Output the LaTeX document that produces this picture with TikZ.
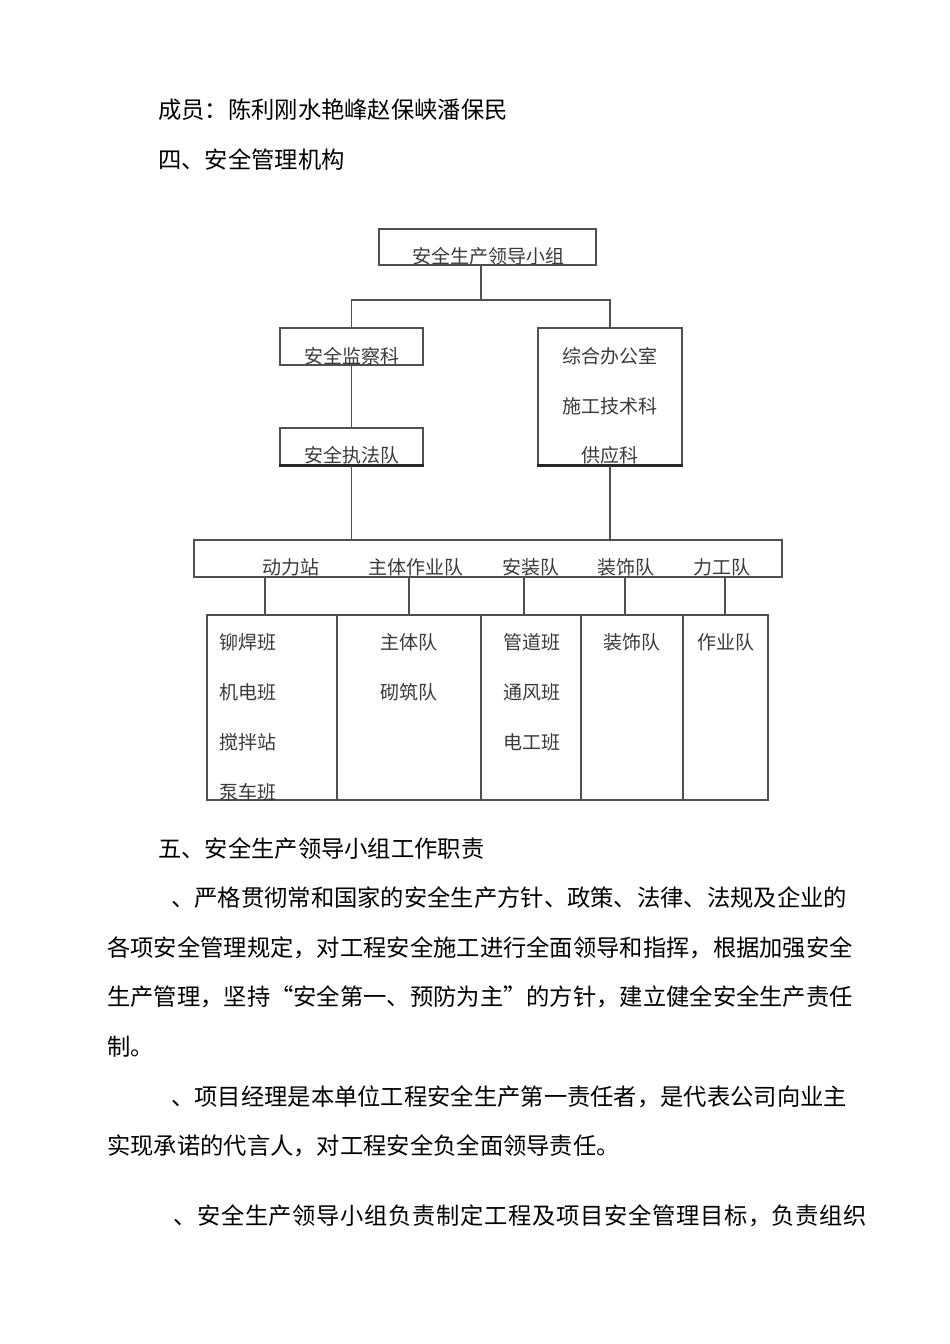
\documentclass[tikz,border=0pt]{standalone}
\usepackage{fontspec}
\setmainfont{Noto Sans CJK SC}
\newfontfamily\spreadfont[LetterSpace=2.8]{Noto Sans CJK SC}
\definecolor{ln}{HTML}{505050}
\definecolor{tx}{HTML}{3A3A3A}
\newcommand\myLq{\makebox[1em][r]{“}}
\newcommand\myRq{\makebox[1em][l]{”}}
\begin{document}
\begin{tikzpicture}[x=1pt,y=-1pt,
  body/.style={font=\fontsize{23.3}{23.3}\selectfont, text=black, inner sep=0pt, anchor=base west},
  dtext/.style={font=\fontsize{19}{19}\selectfont, text=tx, inner sep=0pt, anchor=base},
  dtextl/.style={dtext, anchor=base west},
  box/.style={draw=ln, line width=1.3pt, inner sep=0pt, rectangle},
  conn/.style={draw=ln, line width=1.3pt},
  heavy/.style={draw=black!85, line width=2.4pt}]
\useasboundingbox (0,0) rectangle (950,1344);

% body text above
\node[body] (m1) at (158,118.9) {成员：陈利刚水艳峰赵保峡潘保民};
\node[body] (m2) at (158,168.9) {四、安全管理机构};

% boxes
\node[box, minimum width=217pt, minimum height=36pt] (top) at (487.5,247) {};
\node[box, minimum width=143pt, minimum height=37pt] (jc) at (351.5,346.5) {};
\node[box, minimum width=143pt, minimum height=37pt] (jz) at (351.5,446.5) {};
\node[box, minimum width=144pt, minimum height=137pt] (zh) at (610,396.5) {};
\node[box, minimum width=588pt, minimum height=37pt] (bar) at (488,558.5) {};
\node[box, minimum width=130pt, minimum height=185pt] (c1) at (272,707.5) {};
\node[box, minimum width=144pt, minimum height=185pt] (c2) at (409,707.5) {};
\node[box, minimum width=100pt, minimum height=185pt] (c3) at (531,707.5) {};
\node[box, minimum width=102pt, minimum height=185pt] (c4) at (632,707.5) {};
\node[box, minimum width=85pt, minimum height=185pt] (c5) at (725.5,707.5) {};

\draw[heavy] (jz.south west) -- (jz.south east);
\draw[heavy] (zh.south west) -- (zh.south east);

% connectors
\coordinate (j1) at (481,300);
\draw[conn] (top.south -| j1) -- (j1);
\draw[conn] (jc.north) |- (j1) -| (zh.north);
\draw[conn] (jc.south) -- (jz.north);
\draw[conn] (jz.south) -- (jz.south |- bar.north);
\draw[conn] (zh.south) -- (zh.south |- bar.north);
\coordinate (b1) at (265,577);
\coordinate (b2) at (409,577);
\coordinate (b3) at (524,577);
\coordinate (b4) at (625,577);
\coordinate (b5) at (725,577);
\draw[conn] (b1) -- (b1 |- c1.north);
\draw[conn] (b2) -- (b2 |- c2.north);
\draw[conn] (b3) -- (b3 |- c3.north);
\draw[conn] (b4) -- (b4 |- c4.north);
\draw[conn] (b5) -- (b5 |- c5.north);

% diagram labels
\node[dtext] (ttop) at (488,263) {安全生产领导小组};
\node[dtext] (tjc) at (352,363) {安全监察科};
\node[dtext] (tjz) at (352,462) {安全执法队};
\node[dtext] (tz1) at (610,363) {综合办公室};
\node[dtext] (tz2) at (610,413) {施工技术科};
\node[dtext] (tz3) at (610,462) {供应科};

\node[dtext] (tb1) at (291,574) {动力站};
\node[dtext] (tb2) at (416,574) {主体作业队};
\node[dtext] (tb3) at (531,574) {安装队};
\node[dtext] (tb4) at (626,574) {装饰队};
\node[dtext] (tb5) at (722,574) {力工队};

\node[dtextl] (s11) at (219,649) {铆焊班};
\node[dtextl] (s12) at (219,699) {机电班};
\node[dtextl] (s13) at (219,749) {搅拌站};
\node[dtextl] (s14) at (219,799) {泵车班};
\node[dtext] (s21) at (409,649) {主体队};
\node[dtext] (s22) at (409,699) {砌筑队};
\node[dtext] (s31) at (532,649) {管道班};
\node[dtext] (s32) at (532,699) {通风班};
\node[dtext] (s33) at (532,749) {电工班};
\node[dtext] (s41) at (632,649) {装饰队};
\node[dtext] (s51) at (726,649) {作业队};

% body text below
\node[body] (p0) at (158,857.9) {五、安全生产领导小组工作职责};
\node[body] (p1) at (171,906.9) {、严格贯彻常和国家的安全生产方针、政策、法律、法规及企业的};
\node[body] (p2) at (107,956.9) {各项安全管理规定，对工程安全施工进行全面领导和指挥，根据加强安全};
\node[body] (p3) at (107,1005.9) {生产管理，坚持\myLq 安全第一、预防为主\myRq 的方针，建立健全安全生产责任};
\node[body] (p4) at (107,1055.9) {制。};
\node[body] (p5) at (171,1105.9) {、项目经理是本单位工程安全生产第一责任者，是代表公司向业主};
\node[body] (p6) at (107,1154.9) {实现承诺的代言人，对工程安全负全面领导责任。};
\node[body] (p7) at (173,1224.9) {\spreadfont 、安全生产领导小组负责制定工程及项目安全管理目标，负责组织};
\end{tikzpicture}
\end{document}
